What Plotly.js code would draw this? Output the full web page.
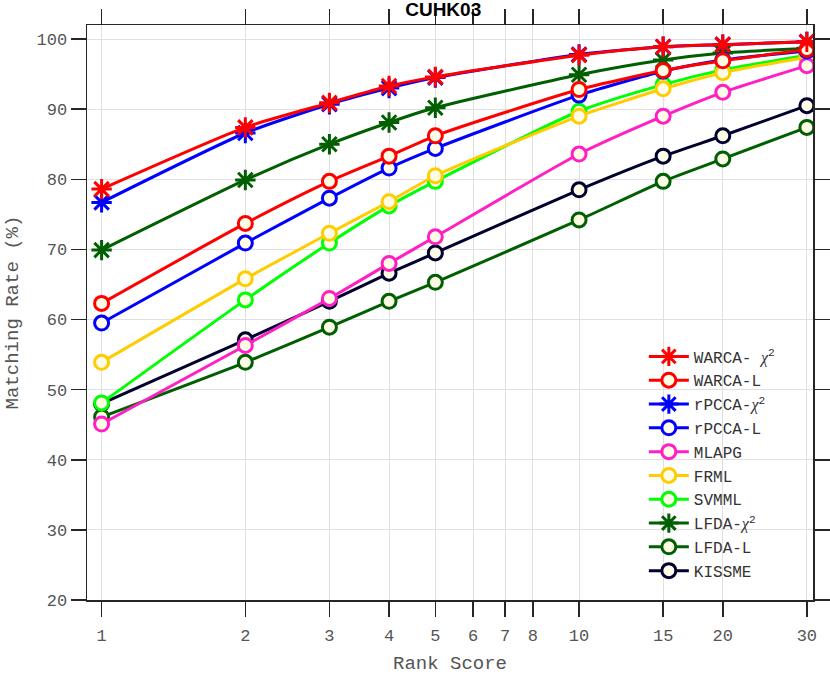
<!DOCTYPE html>
<html><head><meta charset="utf-8">
<script src="https://cdn.plot.ly/plotly-3.0.1.min.js"></script>
<style>html,body{margin:0;padding:0;background:#fff}#chart{width:830px;height:675px}</style>
</head><body><div id="chart"></div>
<script>
const ranks = [1, 2, 3, 4, 5, 10, 15, 20, 30];
const xTicks = [1, 2, 3, 4, 5, 6, 7, 8, 10, 15, 20, 30];

const warcaChi = [78.6, 87.4, 90.9, 93.3, 94.6, 97.7, 98.9, 99.2, 99.6];
const warcaL   = [62.3, 73.7, 79.7, 83.3, 86.2, 92.8, 95.5, 96.9, 98.5];
const rpccaChi = [76.7, 86.6, 90.7, 93.0, 94.5, 97.8, 98.9, 99.2, 99.6];
const rpccaL   = [59.5, 70.9, 77.3, 81.6, 84.4, 92.0, 95.4, 97.0, 98.3];
const mlapg    = [45.1, 56.3, 63.0, 68.0, 71.8, 83.6, 89.0, 92.4, 96.2];
const frml     = [53.9, 65.8, 72.3, 76.8, 80.5, 89.0, 92.9, 95.2, 97.4];
const svmml    = [48.1, 62.8, 70.9, 76.2, 79.7, 89.7, 93.5, 95.6, 97.7];
const lfdaChi  = [69.9, 79.9, 85.0, 88.1, 90.2, 94.9, 97.0, 98.0, 98.7];
const lfdaL    = [46.1, 53.9, 58.9, 62.6, 65.3, 74.2, 79.7, 82.9, 87.4];
const kissme   = [48.0, 57.1, 62.6, 66.6, 69.5, 78.5, 83.3, 86.2, 90.5];

const chi = '<i style="font-family:Liberation Serif">χ</i><sup>2</sup>';
const series = [
  {name: 'WARCA- ' + chi, y: warcaChi, color: '#ff0000', star: true},
  {name: 'WARCA-L', y: warcaL, color: '#ff0000', star: false},
  {name: 'rPCCA-' + chi, y: rpccaChi, color: '#0000ff', star: true},
  {name: 'rPCCA-L', y: rpccaL, color: '#0000ff', star: false},
  {name: 'MLAPG', y: mlapg, color: '#ff1fc4', star: false},
  {name: 'FRML', y: frml, color: '#ffcc00', star: false},
  {name: 'SVMML', y: svmml, color: '#00ff00', star: false},
  {name: 'LFDA-' + chi, y: lfdaChi, color: '#005f00', star: true},
  {name: 'LFDA-L', y: lfdaL, color: '#005f00', star: false},
  {name: 'KISSME', y: kissme, color: '#00002e', star: false}
];

const traces = series.slice().reverse().map(s => ({
  type: 'scatter', mode: 'lines+markers', name: s.name,
  x: ranks, y: s.y,
  line: {color: s.color, width: 3, shape: 'spline', smoothing: 0.6},
  marker: s.star
    ? {symbol: 'asterisk-open', size: 17, color: s.color, line: {color: s.color, width: 3}}
    : {symbol: 'circle', size: 14, color: '#fffde6', line: {color: s.color, width: 3}}
}));

const mono = 'Liberation Mono, Courier New, monospace';
const layout = {
  width: 830, height: 675,
  margin: {l: 87, r: 17, t: 25, b: 75},
  paper_bgcolor: '#fff', plot_bgcolor: '#fff',
  title: {text: '<b>CUHK03</b>', x: 0.534, xanchor: 'center', y: 0.996, yanchor: 'top',
          font: {family: 'Liberation Sans, Arial, sans-serif', size: 19, color: '#000'}},
  xaxis: {
    type: 'log', range: [Math.log10(0.932), Math.log10(30.9)],
    tickvals: xTicks, ticktext: xTicks.map(String),
    ticks: 'outside', ticklen: 15, tickwidth: 1.5, tickcolor: '#262626',
    showline: true, linecolor: '#262626', linewidth: 1.5, mirror: 'ticks',
    showgrid: true, gridcolor: '#e0e0e0', gridwidth: 1, zeroline: false,
    ticklabelstandoff: 4,
    tickfont: {family: mono, size: 17, color: '#555'},
    title: {text: 'Rank Score', font: {family: mono, size: 19, color: '#555'}, standoff: 12}
  },
  yaxis: {
    range: [20, 102], dtick: 10, tick0: 20,
    ticks: 'outside', ticklen: 15, tickwidth: 1.5, tickcolor: '#262626',
    showline: true, linecolor: '#262626', linewidth: 1.5, mirror: 'ticks',
    showgrid: true, gridcolor: '#e0e0e0', gridwidth: 1, zeroline: false,
    tickfont: {family: mono, size: 17, color: '#555'},
    title: {text: 'Matching Rate (%)', font: {family: mono, size: 19, color: '#555'}, standoff: 13}
  },
  legend: {
    x: 0.767, y: 0.453, xanchor: 'left', yanchor: 'top',
    bgcolor: 'rgba(0,0,0,0)', borderwidth: 0, traceorder: 'reversed',
    font: {family: mono, size: 16, color: '#333'}, itemwidth: 40
  },
  showlegend: true
};

Plotly.newPlot('chart', traces, layout, {displayModeBar: false, staticPlot: true});
</script></body></html>
